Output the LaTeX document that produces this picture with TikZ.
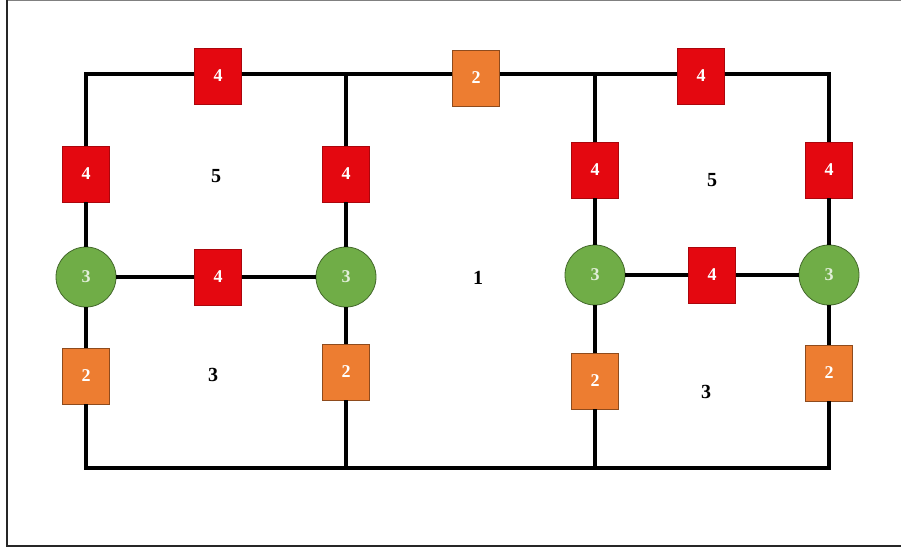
\documentclass[tikz,border=0pt]{standalone}
\usepackage{fontspec}
\setmainfont{Liberation Serif}
\usetikzlibrary{calc}
\usetikzlibrary{shapes}
\definecolor{boxred}{RGB}{228,8,16}
\definecolor{boxorange}{RGB}{237,125,49}
\definecolor{boxgreen}{RGB}{112,173,71}
\tikzset{
    sq/.style={rectangle, minimum width=47pt, minimum height=56pt, inner sep=0pt, text=white, font=\bfseries\fontsize{18}{18}\selectfont},
    redsq/.style={sq, fill=boxred, draw=boxred!75!black, line width=0.8pt},
    orangesq/.style={sq, fill=boxorange, draw=boxorange!60!black, line width=0.8pt},
    greenball/.style={circle, minimum size=60pt, inner sep=0pt, fill=boxgreen, draw=boxgreen!60!black, line width=0.8pt, text=white!80!boxgreen, font=\bfseries\fontsize{18}{18}\selectfont},
    region/.style={font=\bfseries\fontsize{20}{20}\selectfont},
    wire/.style={line width=3.8pt, black},
}
\newcommand{\redsq}[3]{ \node[redsq] (#1) at ( #2 , #3 ) {4};}
\newcommand{\orangesq}[3]{ \node[orangesq] (#1) at ( #2 , #3 ) {2};}
\newcommand{\greenball}[3]{ \node[greenball] (#1) at ( #2 , #3 ) {3};}

\begin{document}
\begin{tikzpicture}[x=1pt,y=-1pt]
        \useasboundingbox (0,0) rectangle (901,550);
        % frame
        \draw[gray, line width=1.5pt] (7,0.7) -- (901,0.7);
        \draw[black!85, line width=2pt] (7,0) -- (7,546) -- (901,546);
        % corners
        \coordinate (A) at (86,74);
        \coordinate (B) at (346,74);
        \coordinate (C) at (595,74);
        \coordinate (D) at (829,74);
        \coordinate (E) at (86,468);
        \coordinate (F) at (346,468);
        \coordinate (G) at (595,468);
        \coordinate (H) at (829,468);
        % left block
        \redsq{r1}{218}{76}
        \redsq{r2}{86}{174}
        \redsq{r3}{346}{174}
        \redsq{r4}{218}{277}
        \greenball{g1}{86}{277}
        \greenball{g2}{346}{277}
        \orangesq{o1}{86}{376}
        \orangesq{o2}{346}{372}
        % middle
        \orangesq{o3}{476}{78}
        % right block
        \redsq{r5}{701}{76}
        \redsq{r6}{595}{170}
        \redsq{r7}{829}{170}
        \redsq{r8}{712}{275}
        \greenball{g3}{595}{275}
        \greenball{g4}{829}{275}
        \orangesq{o4}{595}{381}
        \orangesq{o5}{829}{373}
        % wires
        \draw[wire] (r2) -- (A) -- (r1.west |- A);
        \draw[wire] (r1.east |- A) -- (B) -- (o3.west |- B);
        \draw[wire] (o3.east |- B) -- (C) -- (r5.west |- C);
        \draw[wire] (r5.east |- C) -- (D) -- (r7);
        \draw[wire] (B) -- (r3) -- (g2) -- (o2) -- (F);
        \draw[wire] (C) -- (r6) -- (g3) -- (o4) -- (G);
        \draw[wire] (r2) -- (g1) -- (o1) -- (E) -- (F) -- (G) -- (H) -- (o5) -- (g4) -- (r7);
        \draw[wire] (g1) -- (r4) -- (g2);
        \draw[wire] (g3) -- (r8) -- (g4);
        % regions
        \node[region] (n1) at (216,176) {5};
        \node[region] (n2) at (213,375) {3};
        \node[region] (n3) at (478,278) {1};
        \node[region] (n4) at (712,180) {5};
        \node[region] (n5) at (706,392) {3};
    \end{tikzpicture}
\end{document}
